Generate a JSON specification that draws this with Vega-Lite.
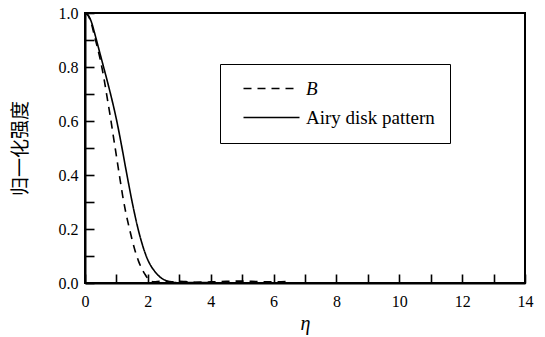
{
  "$schema": "https://vega.github.io/schema/vega-lite/v6.json",
  "autosize": "none",
  "width": 440,
  "height": 270,
  "padding": {"left": 85, "top": 13, "right": 20, "bottom": 54},
  "background": "white",
  "config": {
    "view": {"stroke": "black", "strokeWidth": 2},
    "font": "Liberation Serif"
  },
  "data": {
    "values": [
      {"eta": 0, "I": 1.0, "series": "B"},
      {"eta": 0.1, "I": 0.99, "series": "B"},
      {"eta": 0.2, "I": 0.962, "series": "B"},
      {"eta": 0.3, "I": 0.915, "series": "B"},
      {"eta": 0.4, "I": 0.87, "series": "B"},
      {"eta": 0.5, "I": 0.82, "series": "B"},
      {"eta": 0.6, "I": 0.76, "series": "B"},
      {"eta": 0.7, "I": 0.69, "series": "B"},
      {"eta": 0.8, "I": 0.62, "series": "B"},
      {"eta": 0.9, "I": 0.545, "series": "B"},
      {"eta": 1.0, "I": 0.47, "series": "B"},
      {"eta": 1.1, "I": 0.395, "series": "B"},
      {"eta": 1.2, "I": 0.322, "series": "B"},
      {"eta": 1.3, "I": 0.26, "series": "B"},
      {"eta": 1.4, "I": 0.208, "series": "B"},
      {"eta": 1.5, "I": 0.16, "series": "B"},
      {"eta": 1.6, "I": 0.117, "series": "B"},
      {"eta": 1.7, "I": 0.082, "series": "B"},
      {"eta": 1.8, "I": 0.055, "series": "B"},
      {"eta": 1.9, "I": 0.034, "series": "B"},
      {"eta": 2.0, "I": 0.016, "series": "B"},
      {"eta": 2.1, "I": 0.006, "series": "B"},
      {"eta": 2.2, "I": 0.004, "series": "B"},
      {"eta": 2.4, "I": 0.006, "series": "B"},
      {"eta": 2.6, "I": 0.006, "series": "B"},
      {"eta": 2.8, "I": 0.004, "series": "B"},
      {"eta": 3.0, "I": 0.006, "series": "B"},
      {"eta": 3.2, "I": 0.005, "series": "B"},
      {"eta": 3.5, "I": 0.003, "series": "B"},
      {"eta": 4.0, "I": 0.004, "series": "B"},
      {"eta": 4.5, "I": 0.006, "series": "B"},
      {"eta": 5.0, "I": 0.007, "series": "B"},
      {"eta": 5.5, "I": 0.005, "series": "B"},
      {"eta": 6.0, "I": 0.004, "series": "B"},
      {"eta": 6.4, "I": 0.005, "series": "B"},
      {"eta": 0, "I": 1.0, "series": "Airy disk pattern"},
      {"eta": 0.1, "I": 0.992, "series": "Airy disk pattern"},
      {"eta": 0.2, "I": 0.968, "series": "Airy disk pattern"},
      {"eta": 0.3, "I": 0.928, "series": "Airy disk pattern"},
      {"eta": 0.4, "I": 0.884, "series": "Airy disk pattern"},
      {"eta": 0.5, "I": 0.84, "series": "Airy disk pattern"},
      {"eta": 0.6, "I": 0.796, "series": "Airy disk pattern"},
      {"eta": 0.7, "I": 0.752, "series": "Airy disk pattern"},
      {"eta": 0.8, "I": 0.706, "series": "Airy disk pattern"},
      {"eta": 0.9, "I": 0.658, "series": "Airy disk pattern"},
      {"eta": 1.0, "I": 0.606, "series": "Airy disk pattern"},
      {"eta": 1.1, "I": 0.548, "series": "Airy disk pattern"},
      {"eta": 1.2, "I": 0.486, "series": "Airy disk pattern"},
      {"eta": 1.3, "I": 0.422, "series": "Airy disk pattern"},
      {"eta": 1.4, "I": 0.36, "series": "Airy disk pattern"},
      {"eta": 1.5, "I": 0.3, "series": "Airy disk pattern"},
      {"eta": 1.6, "I": 0.245, "series": "Airy disk pattern"},
      {"eta": 1.7, "I": 0.195, "series": "Airy disk pattern"},
      {"eta": 1.8, "I": 0.152, "series": "Airy disk pattern"},
      {"eta": 1.9, "I": 0.115, "series": "Airy disk pattern"},
      {"eta": 2.0, "I": 0.085, "series": "Airy disk pattern"},
      {"eta": 2.1, "I": 0.063, "series": "Airy disk pattern"},
      {"eta": 2.2, "I": 0.046, "series": "Airy disk pattern"},
      {"eta": 2.3, "I": 0.032, "series": "Airy disk pattern"},
      {"eta": 2.4, "I": 0.021, "series": "Airy disk pattern"},
      {"eta": 2.5, "I": 0.013, "series": "Airy disk pattern"},
      {"eta": 2.6, "I": 0.008, "series": "Airy disk pattern"},
      {"eta": 2.7, "I": 0.004, "series": "Airy disk pattern"},
      {"eta": 2.8, "I": 0.002, "series": "Airy disk pattern"},
      {"eta": 3.0, "I": 0.001, "series": "Airy disk pattern"},
      {"eta": 3.2, "I": 0.002, "series": "Airy disk pattern"},
      {"eta": 3.5, "I": 0.002, "series": "Airy disk pattern"},
      {"eta": 4.0, "I": 0.001, "series": "Airy disk pattern"},
      {"eta": 5.0, "I": 0.0, "series": "Airy disk pattern"}
    ]
  },
  "mark": {"type": "line", "color": "black", "strokeWidth": 1.6, "clip": true, "interpolate": "monotone"},
  "encoding": {
    "x": {
      "field": "eta", "type": "quantitative",
      "scale": {"domain": [0, 14], "nice": false, "zero": false},
      "axis": {
        "title": "η",
        "titleFont": "Liberation Serif", "titleFontStyle": "italic", "titleFontWeight": "normal", "titleFontSize": 20, "titleColor": "black", "titlePadding": 4,
        "values": [0,1,2,3,4,5,6,7,8,9,10,11,12,13,14],
        "labelExpr": "datum.value % 2 === 0 ? datum.label : ''",
        "labelFont": "Liberation Serif", "labelFontSize": 16, "labelColor": "black", "labelPadding": 19,
        "labelFlush": false, "labelOverlap": false,
        "tickSize": -9,
        "tickColor": "black", "tickWidth": 1.6,
        "domainColor": "black", "domainWidth": 2,
        "grid": false,
        "encode": {"ticks": {"update": {"y2": {"signal": "datum.value % 2 === 0 ? -9 : -5"}}}}
      }
    },
    "y": {
      "field": "I", "type": "quantitative",
      "scale": {"domain": [0, 1], "nice": false},
      "axis": {
        "title": "归一化强度",
        "titleFont": "Noto Sans CJK SC", "titleFontWeight": "normal", "titleFontSize": 19, "titleColor": "black", "titlePadding": 28,
        "values": [0,0.1,0.2,0.3,0.4,0.5,0.6,0.7,0.8,0.9,1.0],
        "format": ".1f",
        "labelExpr": "round(datum.value * 10) % 2 === 0 ? datum.label : ''",
        "labelFont": "Liberation Serif", "labelFontSize": 16, "labelColor": "black", "labelPadding": 16,
        "labelFlush": false, "labelOverlap": false,
        "tickSize": -9,
        "tickColor": "black", "tickWidth": 1.6,
        "domainColor": "black", "domainWidth": 2,
        "grid": false,
        "encode": {"ticks": {"update": {"x2": {"signal": "round(datum.value * 10) % 2 === 0 ? 9 : 5"}}}}
      }
    },
    "strokeDash": {
      "field": "series", "type": "nominal",
      "scale": {"domain": ["B", "Airy disk pattern"], "range": [[8, 6], [1, 0]]},
      "legend": {
        "title": null,
        "orient": "none", "legendX": 135, "legendY": 51,
        "strokeColor": "black", "padding": 15, "fillColor": "white",
        "symbolType": "M-0.2,0H11", "symbolSize": 100, "symbolStrokeColor": "black", "symbolStrokeWidth": 1.6,
        "labelFont": "Liberation Serif", "labelFontSize": 19, "labelColor": "black", "labelOffset": 52,
        "rowPadding": 9,
        "encode": {"labels": {"update": {"fontStyle": {"signal": "datum.label === 'B' ? 'italic' : 'normal'"}}}}
      }
    }
  }
}
